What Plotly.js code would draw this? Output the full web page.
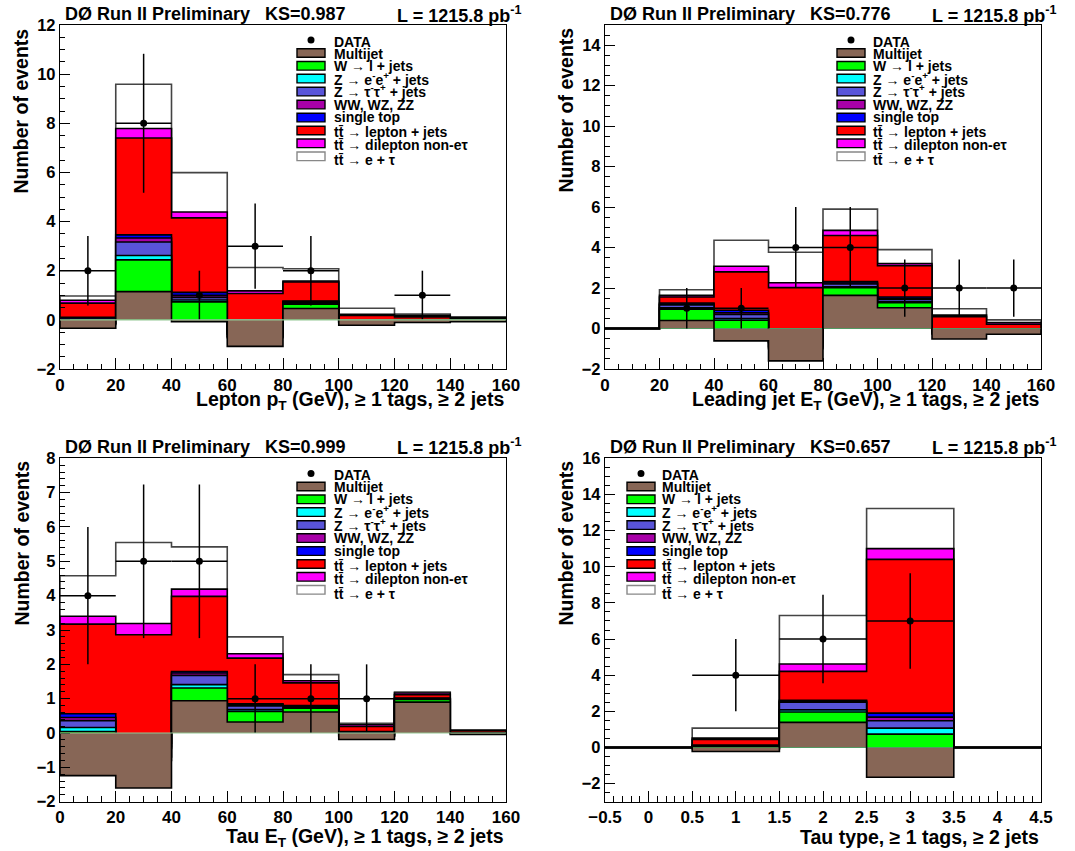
<!DOCTYPE html>
<html>
<head>
<meta charset="utf-8">
<script src="https://cdn.plot.ly/plotly-3.0.1.min.js"></script>
<style>html,body{margin:0;padding:0;background:#fff;}</style>
</head>
<body>
<div id="chart" style="width:1075px;height:851px;"></div>
<script>
// ---------------- DATA ----------------
// Panel 1: Lepton pT
const lepPtEdges    = [0, 20, 40, 60, 80, 100, 120, 140, 160];
const lepPtMultijet = [-0.34, 1.15, -0.07, -1.08, 0.46, -0.22, -0.11, -0.08];
const lepPtWjets    = [0.15, 1.29, 0.80, 0.35, 0.18, 0.10, 0.06, 0.04];
const lepPtZee      = [0.05, 0.18, 0.08, 0.05, 0.03, 0.02, 0.01, 0.01];
const lepPtZtautau  = [0.15, 0.55, 0.10, 0.10, 0.05, 0.05, 0.02, 0.01];
const lepPtDiboson  = [0.02, 0.16, 0.07, 0.05, 0.02, 0.02, 0.01, 0.01];
const lepPtSingleTop= [0.07, 0.13, 0.14, 0.05, 0.03, 0.03, 0.02, 0.01];
const lepPtTTljets  = [0.58, 3.94, 3.03, 1.55, 0.77, 0.18, 0.11, 0.06];
const lepPtTTdilep  = [0.12, 0.39, 0.24, 0.11, 0.04, 0.05, 0.07, 0.02];
const lepPtTTetau   = [0.17, 1.80, 1.60, 0.95, 0.50, 0.24, 0.05, 0.04];
const lepPtData     = [2, 8, 1, 3, 2, 0, 1, 0];

// Panel 2: Leading jet ET
const jetEtEdges    = [0, 20, 40, 60, 80, 100, 120, 140, 160];
const jetEtMultijet = [0, 0.40, -0.61, -1.60, 1.64, 1.03, -0.52, -0.28];
const jetEtWjets    = [0, 0.55, 1.02, 0.60, 0.38, 0.25, 0.25, 0.15];
const jetEtZee      = [0, 0.07, 0.08, 0.10, 0.04, 0.04, 0.03, 0.02];
const jetEtZtautau  = [0, 0.15, 0.21, 0.20, 0.14, 0.12, 0.10, 0.05];
const jetEtDiboson  = [0, 0.04, 0.08, 0.05, 0.05, 0.04, 0.03, 0.02];
const jetEtSingleTop= [0, 0.05, 0.12, 0.10, 0.07, 0.08, 0.05, 0.03];
const jetEtTTljets  = [0, 0.30, 1.90, 2.57, 2.28, 1.55, 0.65, 0.22];
const jetEtTTdilep  = [0, 0.08, 0.28, 0.24, 0.25, 0.10, 0.07, 0.08];
const jetEtTTetau   = [0, 0.28, 1.28, 1.51, 1.05, 0.69, 0.32, 0.14];
const jetEtData     = [0, 1, 1, 4, 4, 2, 2, 2];

// Panel 3: Tau ET
const tauEtEdges    = [0, 20, 40, 60, 80, 100, 120, 140, 160];
const tauEtMultijet = [-1.24, -1.60, 0.94, 0.32, 0.61, -0.19, 0.90, -0.04];
const tauEtWjets    = [1.28, 0.80, 0.37, 0.31, 0.11, 0.10, 0.08, 0.03];
const tauEtZee      = [0.12, 0.10, 0.10, 0.05, 0.02, 0.02, 0.01, 0.005];
const tauEtZtautau  = [0.20, 0.25, 0.27, 0.11, 0.03, 0.05, 0.01, 0.01];
const tauEtDiboson  = [0.09, 0.05, 0.07, 0.03, 0.01, 0.02, 0.005, 0.005];
const tauEtSingleTop= [0.11, 0.10, 0.04, 0.03, 0.02, 0.04, 0.01, 0.005];
const tauEtTTljets  = [2.61, 3.16, 2.19, 1.33, 0.66, 0.15, 0.10, 0.05];
const tauEtTTdilep  = [0.23, 0.33, 0.21, 0.13, 0.06, 0.05, 0.05, 0.015];
const tauEtTTetau   = [1.18, 2.36, 1.23, 0.49, 0.18, 0.04, 0.03, 0.01];
const tauEtData     = [4, 5, 5, 1, 1, 1, 0, 0];

// Panel 4: Tau type
const tauTypeEdges    = [-0.5, 0.5, 1.5, 2.5, 3.5, 4.5];
const tauTypeMultijet = [0, -0.22, 1.39, -1.65, 0];
const tauTypeWjets    = [0, 0.15, 0.57, 2.39, 0];
const tauTypeZee      = [0, 0.03, 0.12, 0.33, 0];
const tauTypeZtautau  = [0, 0.10, 0.42, 0.41, 0];
const tauTypeDiboson  = [0, 0.03, 0.05, 0.20, 0];
const tauTypeSingleTop= [0, 0.05, 0.06, 0.22, 0];
const tauTypeTTljets  = [0, 0.30, 1.60, 8.51, 0];
const tauTypeTTdilep  = [0, 0.08, 0.41, 0.59, 0];
const tauTypeTTetau   = [0, 0.55, 2.68, 2.22, 0];
const tauTypeData     = [0, 4, 6, 7, 0];

const legendLabels = ['DATA', 'Multijet', 'W \u2192 l + jets', 'Z \u2192 e<sup>-</sup>e<sup>+</sup> + jets',
  'Z \u2192 \u03c4<sup>-</sup>\u03c4<sup>+</sup> + jets', 'WW, WZ, ZZ', 'single top',
  'tt\u0304 \u2192 lepton + jets', 'tt\u0304 \u2192 dilepton non-e\u03c4', 'tt\u0304 \u2192 e + \u03c4'];
const ksValues = ['0.987', '0.776', '0.999', '0.657'];
const xTitles = ['Lepton p<sub>T</sub> (GeV), \u2265 1 tags, \u2265 2 jets',
  'Leading jet E<sub>T</sub> (GeV), \u2265 1 tags, \u2265 2 jets',
  'Tau E<sub>T</sub> (GeV), \u2265 1 tags, \u2265 2 jets',
  'Tau type, \u2265 1 tags, \u2265 2 jets'];

// ---------------- STYLE ----------------
const FONT = 'Liberation Sans, Arial, Helvetica, sans-serif';
const fillColors = ['#876656', '#00ff00', '#00ffff', '#5954d9', '#a800a8', '#0000ff', '#ff0000', '#ff00ff', '#ffffff'];
const lineColors = ['#000', '#000', '#000', '#000', '#000', '#000', '#000', '#000', '#444'];
const W = 1075, H = 851;
const px = v => v / W;
const py = v => 1 - v / H;

const panels = [
  {edges: lepPtEdges, comps: [lepPtMultijet, lepPtWjets, lepPtZee, lepPtZtautau, lepPtDiboson, lepPtSingleTop, lepPtTTljets, lepPtTTdilep, lepPtTTetau], data: lepPtData,
   frame: [60, 506, 25, 369], yr: [-2, 12], ydt: 2, ymin: 0.5, xr: [0, 160], xdt: 20, xmin: 5, greenZero: true,
   legBox: [297, 325], legText: 332, legY: 40, headY: 14, headL: 63, headR: 523, xtY: 400, ytX: 21, ytY: 27},
  {edges: jetEtEdges, comps: [jetEtMultijet, jetEtWjets, jetEtZee, jetEtZtautau, jetEtDiboson, jetEtSingleTop, jetEtTTljets, jetEtTTdilep, jetEtTTetau], data: jetEtData,
   frame: [605, 1041, 25, 369], yr: [-2, 15], ydt: 2, ymin: 0.5, xr: [0, 160], xdt: 20, xmin: 5, greenZero: false,
   legBox: [837, 865], legText: 871, legY: 40, headY: 14, headL: 608, headR: 1058, xtY: 400, ytX: 565, ytY: 26},
  {edges: tauEtEdges, comps: [tauEtMultijet, tauEtWjets, tauEtZee, tauEtZtautau, tauEtDiboson, tauEtSingleTop, tauEtTTljets, tauEtTTdilep, tauEtTTetau], data: tauEtData,
   frame: [60, 506, 458.3, 801.7], yr: [-2, 8], ydt: 1, ymin: 0.2, xr: [0, 160], xdt: 20, xmin: 5, greenZero: true,
   legBox: [297, 325], legText: 332, legY: 473.5, headY: 447, headL: 63, headR: 523, xtY: 837, ytX: 21, ytY: 459},
  {edges: tauTypeEdges, comps: [tauTypeMultijet, tauTypeWjets, tauTypeZee, tauTypeZtautau, tauTypeDiboson, tauTypeSingleTop, tauTypeTTljets, tauTypeTTdilep, tauTypeTTetau], data: tauTypeData,
   frame: [605, 1041, 458.3, 801.7], yr: [-3, 16], ydt: 2, ymin: 0.5, xr: [-0.5, 4.5], xdt: 0.5, xmin: 0.1, greenZero: false,
   legBox: [627, 655], legText: 660, legY: 473.5, headY: 447, headL: 608, headR: 1058, xtY: 837, ytX: 565, ytY: 459}
];

const traces = [];
const shapes = [];
const annotations = [];
const layout = {
  width: W, height: H, autosize: false,
  margin: {l: 0, r: 0, t: 0, b: 0, pad: 0},
  paper_bgcolor: '#fff', plot_bgcolor: '#fff',
  showlegend: false,
  font: {family: FONT, color: '#000', weight: 'bold'}
};

function stepXY(edges, vals) {
  const x = [edges[0]], y = [0];
  for (let i = 0; i < vals.length; i++) { x.push(edges[i]); y.push(vals[i]); }
  x.push(edges[edges.length - 1]); y.push(0);
  return {x, y};
}

// legend row offsets (px relative to DATA row)
const boxOff = [0, 13, 25.8, 38.6, 51.6, 64.6, 77.6, 90.5, 103.3, 116.3];
const textOff = [1.5, 13.5, 25.5, 38.5, 51.5, 64.5, 77, 92, 105.5, 120];

panels.forEach((p, idx) => {
  const n = idx + 1;
  const xa = 'x' + (n === 1 ? '' : n), ya = 'y' + (n === 1 ? '' : n);
  const xkey = 'xaxis' + (n === 1 ? '' : n), ykey = 'yaxis' + (n === 1 ? '' : n);
  const nb = p.edges.length - 1;
  // cumulative stack
  const cum = [];
  p.comps.forEach((c, k) => {
    cum.push(c.map((v, i) => v + (k > 0 ? cum[k - 1][i] : 0)));
  });
  for (let k = cum.length - 1; k >= 0; k--) {
    const s = stepXY(p.edges, cum[k]);
    traces.push({type: 'scatter', mode: 'lines', x: s.x, y: s.y, xaxis: xa, yaxis: ya,
      line: {shape: 'hv', color: lineColors[k], width: 1.6}, fill: 'tozeroy', fillcolor: fillColors[k],
      hoverinfo: 'skip'});
  }
  // data points
  const dx = [], dy = [];
  for (let i = 0; i < nb; i++) {
    if (p.data[i] > 0) { dx.push((p.edges[i] + p.edges[i + 1]) / 2); dy.push(p.data[i]); }
  }
  const half = (p.edges[1] - p.edges[0]) / 2;
  traces.push({type: 'scatter', mode: 'markers', x: dx, y: dy, xaxis: xa, yaxis: ya,
    marker: {color: '#000', size: 7, symbol: 'circle'},
    error_x: {type: 'constant', value: half, width: 0, thickness: 1.5, color: '#000'},
    error_y: {type: 'sqrt', width: 0, thickness: 1.5, color: '#000'}});

  const fr = p.frame;
  const tickfont = {family: FONT, size: 17, weight: 'bold', color: '#000'};
  layout[xkey] = {domain: [px(fr[0]), px(fr[1])], anchor: ya, range: p.xr, tickmode: 'linear', tick0: 0, dtick: p.xdt,
    ticks: 'inside', ticklen: 11, tickwidth: 1, tickcolor: '#000',
    minor: {dtick: p.xmin, tick0: 0, ticks: 'inside', ticklen: 5.5, tickwidth: 1, tickcolor: '#000', showgrid: false},
    showline: true, mirror: true, linecolor: '#000', linewidth: 1.2, showgrid: false, zeroline: false,
    tickfont: tickfont, fixedrange: true};
  layout[ykey] = {domain: [py(fr[3]), py(fr[2])], anchor: xa, range: p.yr, tickmode: 'linear', tick0: 0, dtick: p.ydt,
    ticks: 'inside', ticklen: 10, tickwidth: 1, tickcolor: '#000',
    minor: {dtick: p.ymin, tick0: 0, ticks: 'inside', ticklen: 5, tickwidth: 1, tickcolor: '#000', showgrid: false},
    showline: true, mirror: true, linecolor: '#000', linewidth: 1.2, showgrid: false, zeroline: false,
    tickfont: {family: FONT, size: 16.5, weight: 'bold', color: '#000'}, fixedrange: true};

  if (p.greenZero) {
    shapes.push({type: 'line', xref: xa, yref: ya, x0: p.xr[0], x1: p.xr[1], y0: 0, y1: 0,
      line: {color: '#94c894', width: 1.2}, layer: 'above'});
  }

  // header
  annotations.push({xref: 'paper', yref: 'paper', x: px(p.headL), y: py(p.headY), xanchor: 'left', yanchor: 'middle',
    text: 'D\u00d8 Run II Preliminary\u00a0\u00a0\u00a0KS=' + ksValues[idx], showarrow: false,
    font: {family: FONT, size: 18, weight: 'bold', color: '#000'}});
  annotations.push({xref: 'paper', yref: 'paper', x: px(p.headR), y: py(p.headY), xanchor: 'right', yanchor: 'middle',
    text: 'L = 1215.8 pb<sup>-1</sup>', showarrow: false,
    font: {family: FONT, size: 18, weight: 'bold', color: '#000'}});
  // axis titles
  annotations.push({xref: 'paper', yref: 'paper', x: px(fr[1]), y: py(p.xtY), xanchor: 'right', yanchor: 'middle',
    text: xTitles[idx], showarrow: false, font: {family: FONT, size: 19.5, weight: 'bold', color: '#000'}});
  annotations.push({xref: 'paper', yref: 'paper', x: px(p.ytX), y: py(p.ytY), xanchor: 'center', yanchor: 'top',
    text: 'Number of events', textangle: -90, showarrow: false, font: {family: FONT, size: 19.5, weight: 'bold', color: '#000'}});

  // legend
  const bx0 = p.legBox[0], bx1 = p.legBox[1];
  const cx = (bx0 + bx1) / 2;
  shapes.push({type: 'circle', xref: 'paper', yref: 'paper', x0: px(cx - 3.5), x1: px(cx + 3.5),
    y0: py(p.legY + 3.5), y1: py(p.legY - 3.5), fillcolor: '#000', line: {width: 0}});
  for (let k = 1; k < 10; k++) {
    const yc = p.legY + boxOff[k];
    shapes.push({type: 'rect', xref: 'paper', yref: 'paper', x0: px(bx0), x1: px(bx1),
      y0: py(yc + 4.3), y1: py(yc - 4.3), fillcolor: fillColors[k - 1],
      line: {color: k === 9 ? '#888' : '#000', width: 1.4}});
  }
  for (let k = 0; k < 10; k++) {
    annotations.push({xref: 'paper', yref: 'paper', x: px(p.legText), y: py(p.legY + textOff[k]), xanchor: 'left', yanchor: 'middle',
      text: legendLabels[k], showarrow: false, font: {family: FONT, size: 14, weight: 'bold', color: '#000'}});
  }
});

layout.shapes = shapes;
layout.annotations = annotations;

Plotly.newPlot('chart', traces, layout, {displayModeBar: false, staticPlot: true});
</script>
</body>
</html>
